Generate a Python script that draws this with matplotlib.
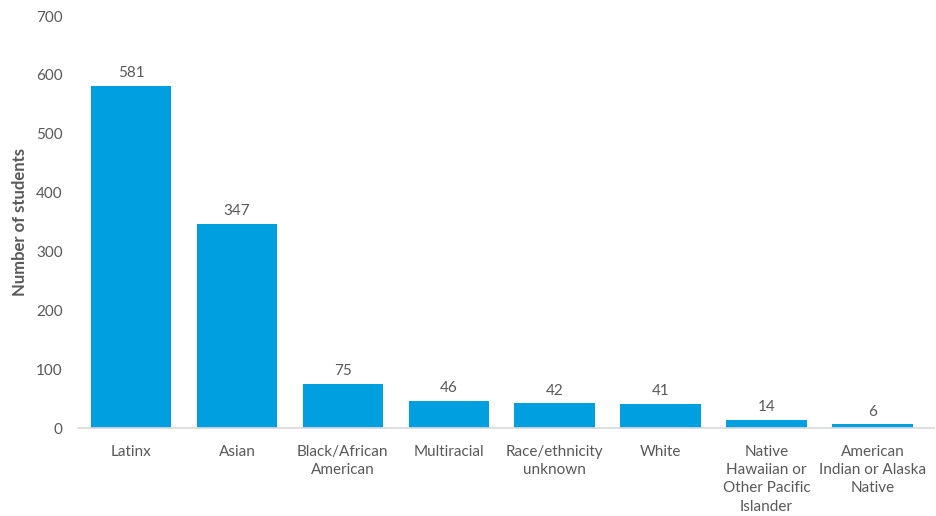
import matplotlib.pyplot as plt

categories = ['Latinx', 'Asian', 'Black/African\nAmerican', 'Multiracial',
              'Race/ethnicity\nunknown', 'White', 'Native\nHawaiian or\nOther Pacific\nIslander',
              'American\nIndian or Alaska\nNative']
students = [581, 347, 75, 46, 42, 41, 14, 6]

plt.rcParams['font.family'] = ['Lato', 'DejaVu Sans']
text_color = '#595959'

fig = plt.figure(figsize=(9.37, 5.16), dpi=100)
ax = fig.add_axes([78 / 937, 88 / 516, 856 / 937, 412 / 516])

x = range(len(categories))
bars = ax.bar(x, students, width=0.76, color='#009FE0')

for b, v in zip(bars, students):
    ax.annotate(str(v), (b.get_x() + b.get_width() / 2, v), xytext=(0, 4),
                textcoords='offset points', ha='center', va='bottom',
                fontsize=11, color=text_color)

ax.set_xlim(-0.5, len(categories) - 0.42)
ax.set_ylim(0, 700)
ax.set_yticks(range(0, 701, 100))
ax.set_xticks(list(x))
ax.set_xticklabels(categories, fontsize=11, color=text_color, linespacing=1.4)
ax.tick_params(axis='y', labelsize=11, labelcolor=text_color, length=0, pad=11)
ax.tick_params(axis='x', length=0, pad=12)

for s in ['top', 'right', 'left']:
    ax.spines[s].set_visible(False)
ax.spines['bottom'].set_color('#D9D9D9')
ax.spines['bottom'].set_linewidth(1.2)

ax.set_ylabel('Number of students', fontsize=12, fontweight='bold', color=text_color, labelpad=6)

fig.savefig('out.png', dpi=100)
